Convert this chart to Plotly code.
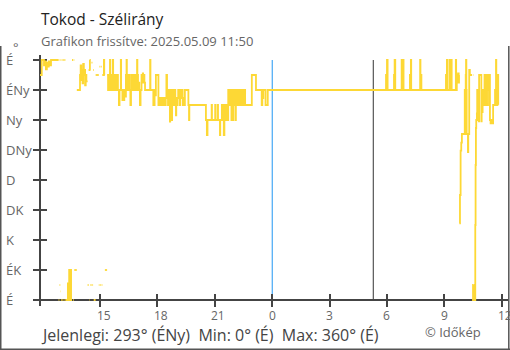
import datetime as dt
import plotly.graph_objects as go

# ---- data -------------------------------------------------------------
START = dt.datetime(2025, 5, 8, 11, 50)

# minutes after START at which the wind direction changed, and the new direction (deg)
minutes = [
    0, 7, 14, 17, 20, 23, 26, 29, 33, 36, 60, 62, 63, 65, 66, 67, 68, 70, 72, 74,
    76, 78, 80, 82, 83, 89, 91, 93, 95, 97, 99, 102, 105, 107, 109,
    117, 127, 129, 131, 133, 135, 137, 139, 141, 143, 145, 147, 151, 154, 156,
    157, 158, 160, 163, 166, 168, 170, 176, 186, 188, 191, 193, 195, 197, 202,
    203, 205, 212,
    215, 217, 219, 221, 222, 224, 226, 228, 230, 231, 233, 235, 237, 239, 241,
    243, 246, 249, 251, 255, 256, 260, 262, 264, 266, 268, 271, 273, 274, 276,
    278, 280, 283, 285, 287,
    289, 291, 293, 295, 297, 299, 301, 303, 306, 307, 309, 311, 313, 315, 317,
    320, 322, 324, 325, 327, 329, 331, 347, 348, 357, 361, 363, 365, 373, 375,
    377, 379, 381, 383, 385, 387, 389, 391, 393, 396, 398, 400, 403, 405, 409,
    410, 412, 415, 416, 418, 420, 422, 424, 426, 428, 429, 431, 433, 435, 440,
    441, 444, 446, 449, 451, 454, 456, 467, 469, 470,
    522, 525, 527, 540, 541, 551, 552, 559, 560, 566, 567, 572, 574, 576, 578,
    580, 582, 584, 586, 589, 592, 594, 596, 598, 600, 602, 603, 606, 607, 608,
    611, 613, 615, 616, 618, 621, 623, 626, 628, 631, 633, 636, 638, 641, 643,
    645, 666, 679, 697, 699, 702, 709, 716,
    1087, 1090, 1092, 1112, 1114, 1116, 1136, 1137, 1138, 1141, 1142, 1162,
    1165, 1166, 1194, 1195, 1198, 1275, 1278, 1279, 1286, 1287, 1288, 1289,
    1290, 1291, 1292, 1293, 1306, 1307, 1309, 1311, 1313, 1315, 1316, 1317,
    1319, 1321, 1323, 1325, 1334, 1336, 1337, 1338, 1339, 1340, 1344, 1345,
    1348, 1350, 1357, 1360, 1361, 1362, 1364, 1365, 1367, 1368, 1369, 1370,
    1372, 1373, 1375, 1376, 1378, 1379, 1386, 1387, 1389, 1390, 1392, 1394,
    1396, 1397, 1399, 1401, 1403, 1404, 1406, 1408, 1410, 1411, 1413, 1415,
    1417, 1420, 1423, 1429, 1430, 1432, 1433, 1434, 1435, 1436, 1437, 1438,
    1439, 1440,
]
degrees = [
    337.5, 360, 352, 358, 346, 356, 350, 358, 352, 360, 0, 360, 22.5, 360, 13, 360, 0, 360, 0, 360,
    0, 360, 0, 360, 0, 25, 0, 45, 0, 45, 0, 360, 0, 360, 45,
    315, 337.5, 352, 330, 345, 325, 354, 337.5, 345, 322, 337.5, 328, 22.5, 345, 0,
    360, 345, 22.5, 356, 22.5, 345, 0, 337.5, 22.5, 350, 22.5, 350, 22.5, 337.5, 360,
    337.5, 45, 337.5,
    315, 337.5, 315, 360, 337.5, 315, 337.5, 315, 360, 330, 315, 337.5, 315, 337.5, 315,
    337.5, 315, 292.5, 315, 360, 315, 300, 315, 300, 315, 305, 337.5, 360, 315, 337.5,
    315, 337.5, 315, 292.5, 315,
    337.5, 315, 337.5, 315, 337.5, 315, 337.5, 315, 360, 337.5, 315, 326, 315, 292.5, 315,
    337.5, 326, 340, 326, 337.5, 326, 315, 360, 315, 292.5, 315, 307, 337.5, 292.5, 303,
    292.5, 303, 292.5, 303, 292.5, 303, 292.5, 303, 292.5, 303, 337.5, 315, 292.5, 315, 267.5,
    315, 292.5, 270, 315, 292.5, 315, 292.5, 315, 292.5, 277, 303, 292.5, 303, 315, 292.5,
    315, 303, 315, 292.5, 303, 292.5, 315, 292.5, 270, 292.5,
    270, 247.5, 270, 292.5, 270, 292.5, 270, 292.5, 270, 247.5, 270, 292.5, 270, 292.5, 247.5,
    270, 292.5, 270, 292.5, 270, 315, 292.5, 315, 292.5, 315, 270, 315, 292.5, 270, 315,
    292.5, 315, 270, 292.5, 315, 292.5, 315, 292.5, 315, 292.5, 315, 292.5, 315, 292.5, 315,
    292.5, 337.5, 315, 292.5, 303, 315, 292.5, 315,
    337.5, 360, 315, 337.5, 360, 315, 360, 315, 337.5, 360, 315, 337.5,
    360, 315, 360, 337.5, 315, 337.5, 360, 315, 360, 315, 337.5, 360,
    337.5, 315, 360, 315, 360, 315, 337.5, 326, 340, 326, 337.5, 115,
    157.5, 224, 236, 249, 315, 249, 337.5, 360, 315, 249, 222, 249,
    345, 337.5, 0, 22.5, 337.5, 0, 22.5, 0, 112.5, 202.5, 258, 270,
    280, 315, 270, 315, 268, 337.5, 268, 315, 282, 315, 292.5, 303,
    337.5, 292.5, 303, 337.5, 292.5, 337.5, 315, 337.5, 292.5, 337.5, 270, 265,
    270, 265, 292.5, 315, 292.5, 360, 315, 337.5, 292.5, 337.5, 300, 337.5,
    293, 293,
]

# compass scale of the y axis
compass_deg = [0, 45, 90, 135, 180, 225, 270, 315, 360]
compass_txt = ["É", "ÉK", "K", "DK", "D", "DNy", "Ny", "ÉNy", "É"]

# hour ticks on the time axis
hour_ticks = [dt.datetime(2025, 5, 8, 15), dt.datetime(2025, 5, 8, 18),
              dt.datetime(2025, 5, 8, 21), dt.datetime(2025, 5, 9, 0),
              dt.datetime(2025, 5, 9, 3), dt.datetime(2025, 5, 9, 6),
              dt.datetime(2025, 5, 9, 9), dt.datetime(2025, 5, 9, 12)]
hour_txt = ["15", "18", "21", "0", "3", "6", "9", "12"]

midnight = dt.datetime(2025, 5, 9, 0, 0)
sunrise = dt.datetime(2025, 5, 9, 5, 17)

title_txt = "Tokod - Szélirány"
subtitle_txt = "Grafikon frissítve: 2025.05.09 11:50"
summary_txt = "Jelenlegi: 293° (ÉNy)&nbsp;&nbsp;Min: 0° (É)&nbsp;&nbsp;Max: 360° (É)"
credit_txt = "© Időkép"

# ---- layout geometry ---------------------------------------------------
W, H = 510, 350
ML, MR, MT, MB = 40, 2, 55, 44
PW, PH = W - ML - MR, H - MT - MB
X_RANGE = [dt.datetime(2025, 5, 8, 11, 51, 30), dt.datetime(2025, 5, 9, 12, 19, 40)]
Y_RANGE = [-9, 367.5]
AXIS_POS = (0 - Y_RANGE[0]) / (Y_RANGE[1] - Y_RANGE[0])  # paper height of 0 deg

FONT = "Open Sans"


def px_x(px):
    return (px - ML) / PW


def px_y(py):
    return (H - MB - py) / PH


# ---- step path, broken where the direction wraps through north --------
xs, ys = [], []
prev = None
for m, v in zip(minutes, degrees):
    t = START + dt.timedelta(minutes=m)
    if prev is not None and abs(v - prev) > 180:
        xs += [t, t]
        ys += [prev, None]
    xs.append(t)
    ys.append(v)
    prev = v

fig = go.Figure()
fig.add_trace(go.Scatter(
    x=xs, y=ys, mode="lines", connectgaps=False,
    line=dict(color="#fdd835", width=1.8, shape="hv"),
    hoverinfo="skip", showlegend=False,
))
# carrier for the inner tick marks
fig.add_trace(go.Scatter(x=[None], y=[None], xaxis="x2", yaxis="y2",
                         mode="lines", showlegend=False, hoverinfo="skip"))

axis_col = "#444444"
common_x = dict(range=X_RANGE, type="date", tickvals=hour_ticks,
                showticklabels=False, showgrid=False, zeroline=False,
                ticklen=6, tickwidth=1.5, tickcolor=axis_col,
                anchor="free", position=AXIS_POS, layer="below traces")
common_y = dict(range=Y_RANGE, tickvals=compass_deg, showticklabels=False,
                showgrid=False, zeroline=False, ticklen=6, tickwidth=1.5,
                tickcolor=axis_col, anchor="free", position=0,
                layer="below traces")

fig.update_layout(
    width=W, height=H,
    margin=dict(l=ML, r=MR, t=MT, b=MB, pad=0),
    paper_bgcolor="white", plot_bgcolor="white",
    font=dict(family=FONT, color="#666666"),
    xaxis=dict(**common_x, ticks="outside", showline=True,
               linecolor=axis_col, linewidth=1.5),
    xaxis2=dict(**common_x, ticks="inside", showline=False, overlaying="x"),
    yaxis=dict(**common_y, ticks="outside", showline=True,
               linecolor=axis_col, linewidth=1.5),
    yaxis2=dict(**common_y, ticks="inside", showline=False, overlaying="y"),
)

# midnight and sunrise markers
for t, col in [(midnight, "#2196f3"), (sunrise, "#333333")]:
    fig.add_shape(type="line", xref="x", yref="y", x0=t, x1=t,
                  y0=compass_deg[0], y1=compass_deg[-1],
                  line=dict(color=col, width=1), layer="below")

# frame around the widget
frame = dict(color="#555555", width=1.5)
fig.add_shape(type="line", xref="paper", yref="paper",
              x0=px_x(0.75), x1=px_x(0.75), y0=px_y(46), y1=px_y(350), line=frame)
fig.add_shape(type="line", xref="paper", yref="paper",
              x0=px_x(0), x1=px_x(510), y0=px_y(349.2), y1=px_y(349.2), line=frame)
fig.add_shape(type="line", xref="paper", yref="paper",
              x0=px_x(508.8), x1=px_x(508.8), y0=px_y(46), y1=px_y(350), line=frame)

ann = []
# compass labels, left aligned
for d, s in zip(compass_deg, compass_txt):
    ann.append(dict(x=0, xref="paper", xshift=-34.5, xanchor="left",
                    y=d, yref="y", yanchor="middle", text=s, showarrow=False,
                    borderpad=0, borderwidth=0,
                    font=dict(size=13, color="#666666", family=FONT)))
# hour labels
for t, s in zip(hour_ticks, hour_txt):
    ann.append(dict(x=t, xref="x", xshift=-3.5, xanchor="left",
                    y=px_y(315.5), yref="paper", yanchor="middle", text=s,
                    showarrow=False, borderpad=0, borderwidth=0,
                    font=dict(size=12, color="#666666", family=FONT)))

ann += [
    dict(x=0, xref="paper", xanchor="left", y=px_y(19), yref="paper",
         yanchor="middle", text=title_txt, showarrow=False, borderpad=0,
         font=dict(size=15.5, color="#222222", family=FONT)),
    dict(x=0, xref="paper", xanchor="left", y=px_y(40.5), yref="paper",
         yanchor="middle", text=subtitle_txt, showarrow=False, borderpad=0,
         font=dict(size=13, color="#666666", family=FONT)),
    dict(x=px_x(12), xref="paper", xanchor="left", y=px_y(47), yref="paper",
         yanchor="middle", text="°", showarrow=False, borderpad=0,
         font=dict(size=13, color="#666666", family=FONT)),
    dict(x=0, xref="paper", xanchor="left", y=px_y(335), yref="paper",
         yanchor="middle", text=summary_txt, showarrow=False, borderpad=0,
         font=dict(size=16, color="#444444", family=FONT)),
    dict(x=px_x(424), xref="paper", xanchor="left", y=px_y(332), yref="paper",
         yanchor="middle", text=credit_txt, showarrow=False, borderpad=0,
         font=dict(size=13, color="#666666", family=FONT)),
]
fig.update_layout(annotations=ann)

fig.write_html("out.html", config={"displayModeBar": False})
